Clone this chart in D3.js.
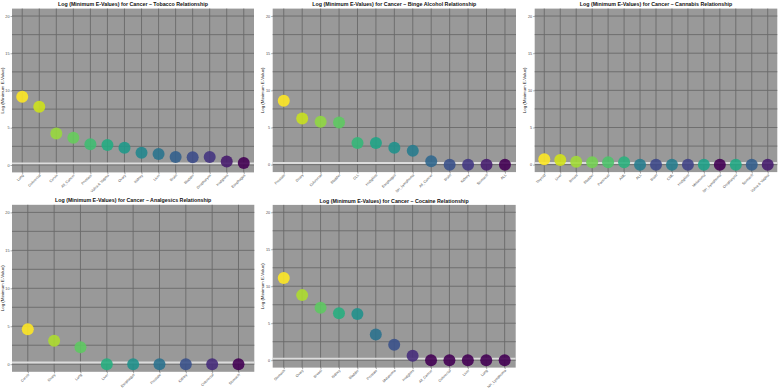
<!DOCTYPE html>
<html><head><meta charset="utf-8">
<script src="https://cdn.jsdelivr.net/npm/d3@7"></script>
<style>
html,body{margin:0;padding:0;background:#fff;}
svg text{font-family:"Liberation Sans",Arial,sans-serif;}
</style></head>
<body><svg id="chart" width="780" height="388"></svg>
<script>
// ---------- DATA ----------
const titles = [
  "Log (Minimum E-Values) for Cancer \u2013 Tobacco Relationship",
  "Log (Minimum E-Values) for Cancer \u2013 Binge Alcohol Relationship",
  "Log (Minimum E-Values) for Cancer \u2013 Cannabis Relationship",
  "Log (Minimum E-Values) for Cancer \u2013 Analgesics Relationship",
  "Log (Minimum E-Values) for Cancer \u2013 Cocaine Relationship"
];
const yTicks = [0, 5, 10, 15, 20];
const yLabel = "Log (Minimum E-Value)";

const tobaccoCats = ["Lung","Colorectal","Cervix","All_Cancer","Prostate","Vulva & Vagina","Ovary","Kidney","Liver","Brain","Bladder","Oropharynx","Hodgkins","Esophagus"];
const tobaccoVals = [9.15,7.81,4.24,3.66,2.77,2.68,2.32,1.65,1.47,1.07,1.03,1.07,0.45,0.27];
const tobaccoRank = [1,0.923,0.846,0.769,0.692,0.615,0.538,0.462,0.385,0.308,0.231,0.154,0.077,0];

const alcoholCats = ["Prostate","Ovary","Colorectal","Bladder","CLL","Hodgkins","Esophagus","NH_Lymphoma","All_Cancer","Brain","Kidney","Stomach","ALL"];
const alcoholVals = [8.6,6.2,5.76,5.67,2.9,2.9,2.28,1.88,0.45,0,0,0,0];
const alcoholRank = [1,0.917,0.833,0.75,0.667,0.583,0.5,0.417,0.333,0.25,0.167,0.083,0];

const cannabisCats = ["Thyroid","Liver","Breast","Bladder","Pancreas","AML","ALL","Brain","CML","Hodgkins","Melanoma","NH_Lymphoma","Oropharynx","Stomach","Vulva & Vagina"];
const cannabisVals = [0.72,0.63,0.4,0.32,0.32,0.33,0,0,0,0,0,0,0,0,0];
const cannabisRank = [1,0.93,0.86,0.79,0.72,0.64,0.42,0.22,0.42,0.2,0.57,0,0.6,0.3,0.08];

const analgesicsCats = ["Cervix","Ovary","Lung","Liver","Esophagus","Prostate","Kidney","Colorectal","Stomach"];
const analgesicsVals = [4.6,3.1,2.24,0,0,0,0,0,0];
const analgesicsRank = [1,0.875,0.75,0.625,0.5,0.375,0.25,0.125,0];

const cocaineCats = ["Stomach","Ovary","Breast","Kidney","Bladder","Prostate","Melanoma","Hodgkins","All_Cancer","Colorectal","Liver","Lung","NH_Lymphoma"];
const cocaineVals = [11.1,8.8,7.1,6.35,6.26,3.47,2.1,0.59,0,0,0,0,0];
const cocaineRank = [1,0.875,0.75,0.625,0.5,0.375,0.25,0.125,0,0,0,0,0];

const refLine = 0.223;

// ---------- LAYOUT ----------
const layouts = [
  {x0:12,   x1:254,   y0:8.6,   y1:172.4},
  {x0:272.7,x1:516,   y0:8.6,   y1:172.1},
  {x0:534.7,x1:777.3, y0:8.6,   y1:172.1},
  {x0:12,   x1:254.3, y0:204.8, y1:371.8},
  {x0:272.7,x1:515.7, y0:204.9, y1:367.6}
];
const panels = [
  {cats:tobaccoCats, vals:tobaccoVals, rank:tobaccoRank},
  {cats:alcoholCats, vals:alcoholVals, rank:alcoholRank},
  {cats:cannabisCats, vals:cannabisVals, rank:cannabisRank},
  {cats:analgesicsCats, vals:analgesicsVals, rank:analgesicsRank},
  {cats:cocaineCats, vals:cocaineVals, rank:cocaineRank}
];

const FONT = "Liberation Sans, Arial, sans-serif";
const svg = d3.select("#chart");
const color = d3.scaleSequential(d3.interpolateViridis).domain([0,1]);

panels.forEach((p, i) => {
  const L = layouts[i];
  const g = svg.append("g");
  const y = d3.scaleLinear().domain([-1, 21]).range([L.y1, L.y0]);
  const x = d3.scalePoint().domain(p.cats).range([L.x0, L.x1]).padding(0.6);

  g.append("rect").attr("x", L.x0).attr("y", L.y0)
    .attr("width", L.x1 - L.x0).attr("height", L.y1 - L.y0)
    .attr("fill", "#999999");

  const gridVals = d3.range(0, 20.01, 2.5);
  g.selectAll(".hg").data(gridVals).enter().append("line")
    .attr("x1", L.x0).attr("x2", L.x1)
    .attr("y1", d => y(d)).attr("y2", d => y(d))
    .attr("stroke", "#6a6a6a").attr("stroke-width", 0.9);
  g.selectAll(".vg").data(p.cats).enter().append("line")
    .attr("x1", d => x(d)).attr("x2", d => x(d))
    .attr("y1", L.y0).attr("y2", L.y1)
    .attr("stroke", "#6a6a6a").attr("stroke-width", 0.9);

  g.append("line").attr("x1", L.x0).attr("x2", L.x1)
    .attr("y1", y(refLine)).attr("y2", y(refLine))
    .attr("stroke", "#dcdcdc").attr("stroke-width", 1.8);

  const data = p.cats.map((c, k) => ({c, v: p.vals[k], t: p.rank[k]}));
  g.selectAll(".pt").data(data).enter().append("circle")
    .attr("cx", d => x(d.c)).attr("cy", d => y(d.v)).attr("r", 6)
    .attr("fill", d => color(d.t)).attr("fill-opacity", 0.9);

  // y axis
  const ya = g.append("g").attr("transform", `translate(${L.x0},0)`)
    .call(d3.axisLeft(y).tickValues(yTicks).tickSize(1.5).tickPadding(1));
  ya.attr("font-family", FONT);
  ya.select(".domain").remove();
  ya.selectAll(".tick line").attr("stroke", "#555").attr("stroke-width", 0.5);
  ya.selectAll(".tick text").attr("font-size", 3.8).attr("fill", "#4d4d4d")
    .attr("font-family", FONT);

  // x axis
  const xa = g.append("g").attr("transform", `translate(0,${L.y1})`)
    .call(d3.axisBottom(x).tickSize(1.5).tickPadding(1));
  xa.attr("font-family", FONT);
  xa.select(".domain").remove();
  xa.selectAll(".tick line").attr("stroke", "#555").attr("stroke-width", 0.5);
  xa.selectAll(".tick text").attr("font-size", 3.6).attr("fill", "#4d4d4d")
    .attr("font-family", FONT)
    .attr("text-anchor", "end").attr("dy", null).attr("y", null)
    .attr("transform", "translate(1.2,3.2) rotate(-45)");

  // title
  g.append("text").attr("x", (L.x0 + L.x1) / 2).attr("y", L.y0 - 2.4)
    .attr("text-anchor", "middle").attr("font-size", 5.3).attr("font-weight", "bold")
    .attr("font-family", FONT).attr("fill", "#111").text(titles[i]);

  // y label
  g.append("text").attr("transform", `translate(${L.x0 - 8.3},${(L.y0 + L.y1) / 2}) rotate(-90)`)
    .attr("text-anchor", "middle").attr("font-size", 4.4).attr("fill", "#222")
    .attr("font-family", FONT).text(yLabel);
});
</script></body></html>
